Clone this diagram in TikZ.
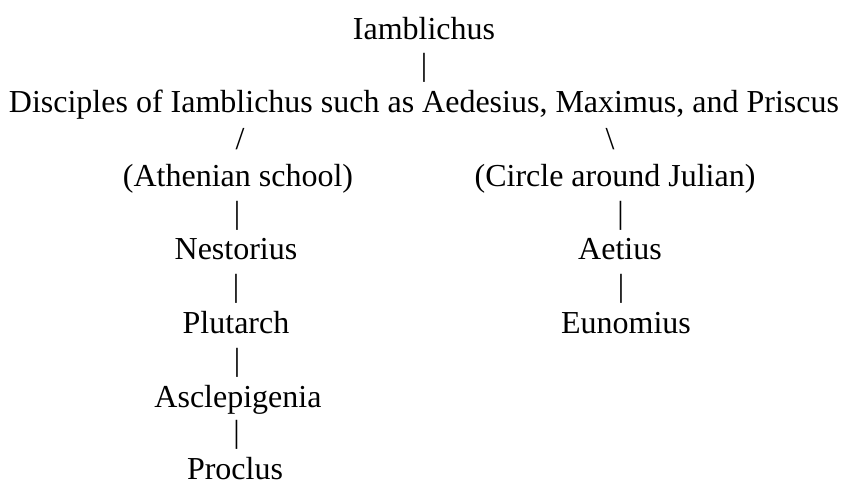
\documentclass[tikz,border=0pt]{standalone}
\usepackage{fontspec}
\setmainfont{Liberation Serif}
\usepackage{xcolor}
\usepackage{tikz}
\usetikzlibrary{positioning, calc}
\definecolor{treeink}{RGB}{0, 0, 0}
\tikzset{
    person/.style={anchor=base, inner sep=0pt, text=treeink,
        font=\fontsize{32}{36.8}\selectfont},
    branch/.style={person},
}

\begin{document}
\begin{tikzpicture}[x=1pt, y=-1pt]
        \useasboundingbox (0,0) rectangle (845,480);
        % top of the line
        \node[person] (iamb) at (424,39) {Iamblichus};
        \node[person] (disc) at (424,112.6) {Disciples of Iamblichus such as Aedesius, Maximus, and Priscus};
        % the two branches
        \node[person] (athens) at (238,186.2) {(Athenian school)};
        \node[person] (julian) at (615,186.2) {(Circle around Julian)};
        \node[person] (nest) at (236,259.8) {Nestorius};
        \node[person] (plut) at (236,333.4) {Plutarch};
        \node[person] (ascl) at (238,407) {Asclepigenia};
        \node[person] (procl) at (235,479.4) {Proclus};
        \node[person] (aetius) at (620,259.8) {Aetius};
        \node[person] (eunom) at (626,333.4) {Eunomius};
        % links
        \path (iamb.base) -- node[branch] {|} (disc.base);
        \path (disc.base -| athens.base) -- node[branch, xshift=2pt] {/} (athens.base);
        \path (disc.base -| julian.base) -- node[branch, xshift=-5pt] {\textbackslash} (julian.base);
        \path (athens.base) -- node[branch] {|} (nest.base);
        \path (nest.base) -- node[branch] {|} (plut.base);
        \path (plut.base) -- node[branch] {|} (ascl.base);
        \path (ascl.base) -- node[branch, yshift=0.6pt] {|} (procl.base);
        \path (julian.base) -- node[branch, xshift=3pt] {|} (aetius.base);
        \path (aetius.base) -- node[branch, xshift=-2pt] {|} (eunom.base);
    \end{tikzpicture}
\end{document}
